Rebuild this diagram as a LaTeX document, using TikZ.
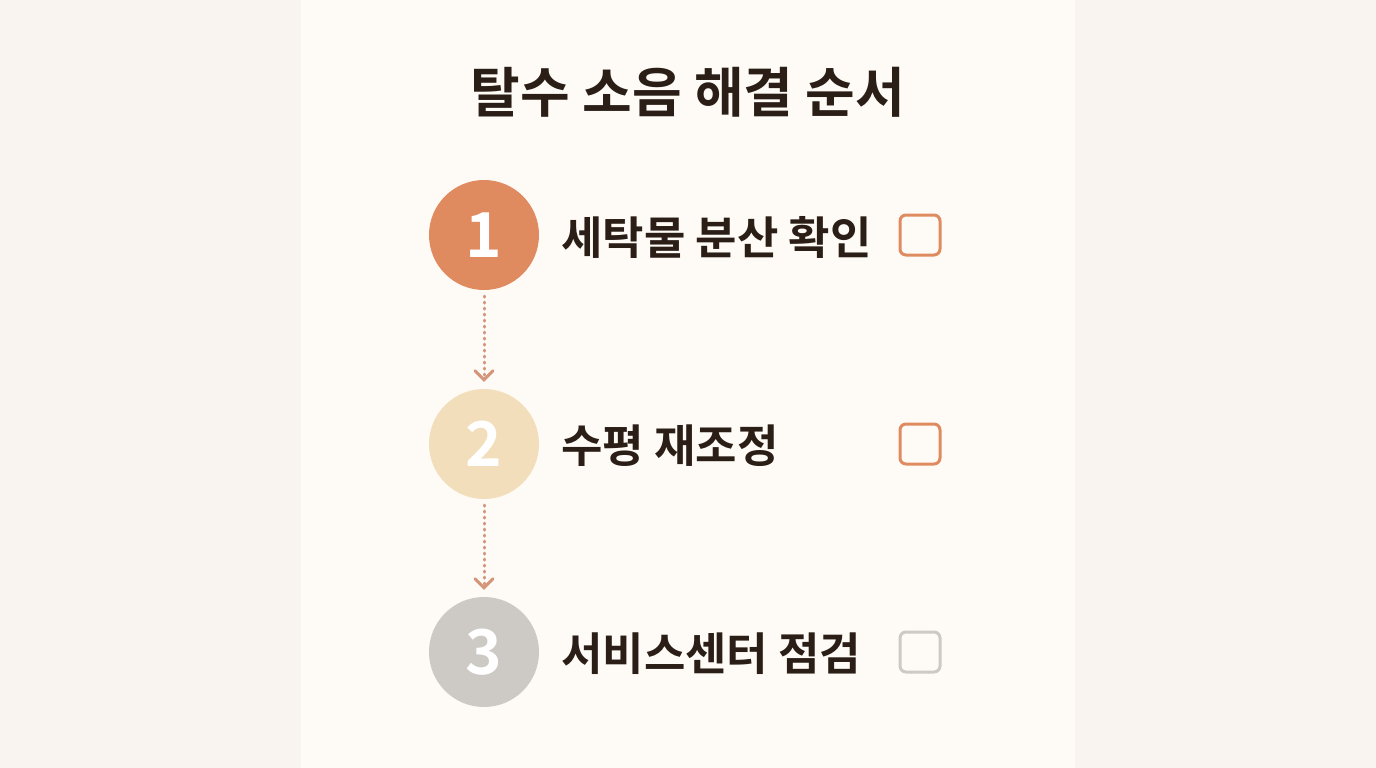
\documentclass[tikz,border=0pt]{standalone}
\usepackage{fontspec}
\newfontfamily\kr[BoldFont={Noto Sans CJK KR Bold}]{Noto Sans CJK KR}
\usetikzlibrary{arrows.meta}
\definecolor{outerbg}{HTML}{F9F4EF}
\definecolor{panelbg}{HTML}{FEFBF6}
\definecolor{ink}{HTML}{2A1E17}
\definecolor{orangeC}{HTML}{E08A60}
\definecolor{beigeC}{HTML}{F2DEBB}
\definecolor{grayC}{HTML}{CDC9C4}
\definecolor{arrowC}{HTML}{D4957A}
\begin{document}
\begin{tikzpicture}[x=1pt,y=-1pt,
  stepcircle/.style={circle,minimum size=110pt,inner sep=0pt,text=white,font=\kr\bfseries\fontsize{62}{62}\selectfont},
  itemtext/.style={anchor=west,inner sep=0pt,text=ink,font=\kr\bfseries\fontsize{45}{45}\selectfont},
  checkbox/.style={draw,line width=3pt,rounded corners=6pt,minimum size=40pt,inner sep=0pt},
  flow/.style={arrowC,line width=3pt,dash pattern=on 1pt off 5pt,line cap=round,-{Straight Barb[length=9pt,width=18pt,line width=3pt,line cap=round]}}
]
\useasboundingbox (0,0) rectangle (1376,768);
\fill[outerbg] (0,0) rectangle (1376,768);
\fill[panelbg] (301,0) rectangle (1075,768);
\node[text=ink,font=\kr\bfseries\fontsize{54}{54}\selectfont] (title) at (688,92) {탈수 소음 해결 순서};

\node[stepcircle,fill=orangeC] (c1) at (484,235) {1};
\node[stepcircle,fill=beigeC] (c2) at (484,444) {2};
\node[stepcircle,fill=grayC] (c3) at (484,652) {3};

\node[itemtext] (t1) at (561,237) {세탁물 분산 확인};
\node[itemtext] (t2) at (561,446) {수평 재조정};
\node[itemtext] (t3) at (561,654) {서비스센터 점검};

\node[checkbox,draw=orangeC] (b1) at (920,235) {};
\node[checkbox,draw=orangeC] (b2) at (920,444) {};
\node[checkbox,draw=grayC] (b3) at (920,652) {};

\draw[flow] ([yshift=-6pt]c1.south) -- ([yshift=7pt]c2.north);
\draw[flow] ([yshift=-6pt]c2.south) -- ([yshift=7pt]c3.north);
\end{tikzpicture}
\end{document}
